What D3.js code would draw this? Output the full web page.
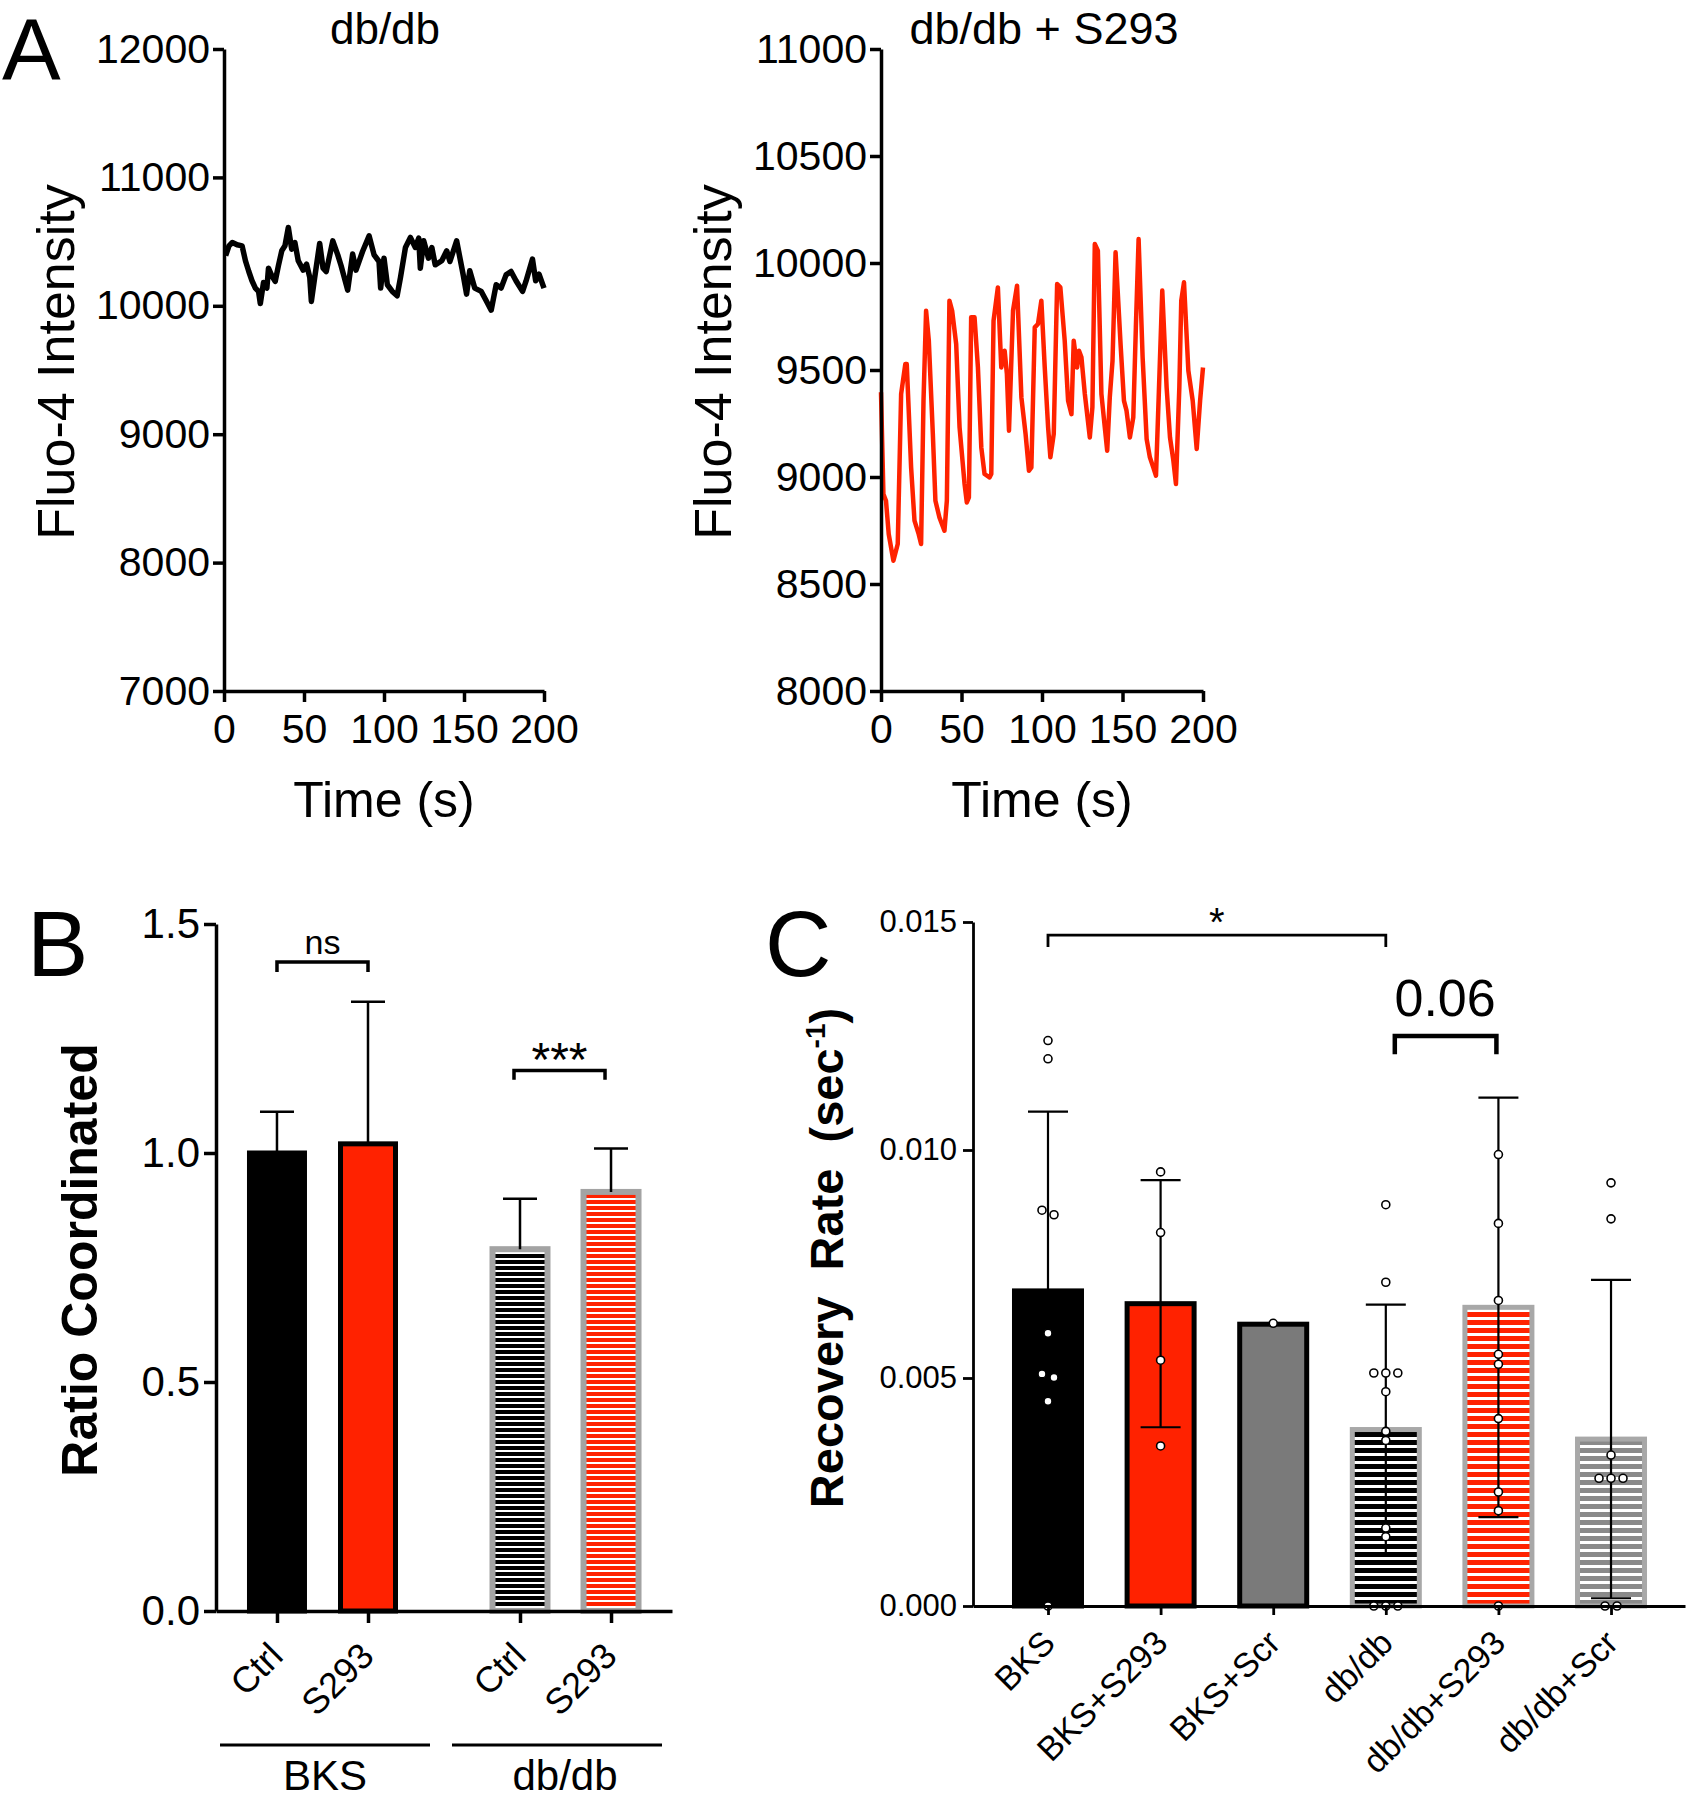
<!DOCTYPE html>
<html>
<head>
<meta charset="utf-8">
<script src="https://cdn.jsdelivr.net/npm/d3@7"></script>
<style>
  body { margin: 0; background: #fff; }
  text { font-family: "Liberation Sans", Arial, sans-serif; fill: #000; }
</style>
</head>
<body>
<svg id="fig" width="1689" height="1800"></svg>
<script>
// --- data

// A: db/db trace (time in s, Fluo-4 intensity)
const dbTime = [1.0, 3.1, 5.2, 8.2, 11.3, 13.4, 15.5, 17.5, 19.6, 21.6, 22.7, 24.7, 26.8, 27.8, 29.9, 32.0, 34.0, 36.1, 38.1, 40.2,
  42.3, 44.3, 46.4, 49.5, 51.6, 53.6, 54.6, 56.7, 59.8, 61.9, 63.9, 68.0, 71.1, 73.2, 77.3, 80.4, 82.5, 86.6, 90.7, 93.8,
  96.9, 97.9, 100.0, 102.1, 105.2, 108.2, 110.3, 113.4, 116.5, 119.6, 121.7, 122.7, 124.8, 127.8, 129.9, 132.0, 136.1, 139.2, 141.2, 145.4,
  149.5, 151.6, 153.6, 156.7, 160.8, 163.9, 167.0, 170.1, 173.2, 176.3, 179.4, 182.5, 186.6, 188.7, 192.8, 194.8, 196.9, 200.0]
const dbValue = [10390, 10467, 10493, 10475, 10467, 10351, 10267, 10195, 10138, 10112, 10018, 10182, 10138, 10293, 10234, 10190, 10312, 10428, 10467, 10610,
  10441, 10493, 10351, 10278, 10325, 10221, 10034, 10221, 10486, 10293, 10267, 10506, 10397, 10312, 10122, 10403, 10278, 10423, 10545, 10397,
  10345, 10138, 10371, 10164, 10112, 10078, 10221, 10454, 10532, 10454, 10527, 10293, 10506, 10371, 10454, 10319, 10351, 10428, 10345, 10506,
  10241, 10091, 10273, 10138, 10112, 10039, 9966, 10164, 10138, 10241, 10267, 10195, 10112, 10190, 10364, 10195, 10247, 10138]

// A: db/db + S293 trace
const s293Time = [0, 1.5, 3.1, 4.8, 7.7, 10.4, 12.5, 15.1, 16.0, 18.7, 20.8, 23.4, 24.9, 26.4, 28.0, 29.7, 32.2, 33.8, 36.3, 39.4,
  40.9, 42.5, 44.2, 46.7, 48.8, 51.9, 53.3, 54.6, 56.0, 58.1, 60.2, 62.3, 64.3, 67.4, 68.5, 69.9, 72.6, 74.7, 76.8, 78.2,
  79.5, 82.0, 84.5, 87.2, 89.8, 91.9, 93.4, 95.5, 97.5, 99.6, 101.7, 103.8, 105.2, 107.3, 109.4, 111.4, 114.1, 116.2, 118.3, 119.7,
  121.8, 123.0, 124.5, 126.6, 129.7, 131.3, 132.8, 134.7, 136.9, 139.0, 140.5, 142.1, 143.8, 145.7, 148.8, 150.9, 152.5, 154.6, 156.7, 158.3,
  160.0, 162.5, 165.0, 167.0, 169.1, 170.8, 172.4, 174.7, 177.4, 179.5, 181.6, 183.2, 185.3, 186.5, 188.2, 190.9, 193.6, 196.1, 198.2, 200.0]
const s293Value = [9396, 8920, 8889, 8733, 8609, 8687, 9388, 9528, 9528, 9045, 8796, 8733, 8687, 9357, 9777, 9637, 9201, 8889, 8811, 8749,
  8889, 9824, 9777, 9621, 9232, 8967, 8881, 8905, 9746, 9746, 9512, 9138, 9014, 8998, 9014, 9730, 9886, 9512, 9590, 9481,
  9216, 9777, 9894, 9372, 9201, 9029, 9045, 9699, 9715, 9824, 9512, 9232, 9092, 9201, 9902, 9886, 9637, 9357, 9294, 9637,
  9512, 9590, 9559, 9388, 9185, 9326, 10089, 10058, 9388, 9232, 9123, 9372, 9543, 10050, 9621, 9357, 9310, 9185, 9279, 9699,
  10112, 9559, 9177, 9092, 9045, 9006, 9357, 9871, 9419, 9185, 9076, 8967, 9419, 9824, 9910, 9497, 9357, 9131, 9357, 9512]

const traceTicks = [0, 50, 100, 150, 200]
const dbTicks = [7000, 8000, 9000, 10000, 11000, 12000]
const s293Ticks = [8000, 8500, 9000, 9500, 10000, 10500, 11000]

// B: ratio coordinated
const ratioGroups = ['BKS', 'BKS', 'db/db', 'db/db']
const ratioLabels = ['Ctrl', 'S293', 'Ctrl', 'S293']
const ratioMean = [1.0, 1.02, 0.79, 0.915]
const ratioErr = [0.09, 0.31, 0.11, 0.095]
const ratioTicks = [0, 0.5, 1.0, 1.5]

// C: recovery rate
const rateNames = ['BKS', 'BKS+S293', 'BKS+Scr', 'db/db', 'db/db+S293', 'db/db+Scr']
const rateMean = [0.00691, 0.00663, 0.00618, 0.00387, 0.00655, 0.00366]
const rateSd = [0.00393, 0.00271, 0, 0.00274, 0.0046, 0.00349]
const ratePoints = [
  [0.0124, 0.0120, 0.00868, 0.00858, 0.00598, 0.00509, 0.00501, 0.00449, 0],
  [0.00952, 0.00819, 0.00539, 0.00351],
  [0.0062],
  [0.0088, 0.0071, 0.00511, 0.00511, 0.00511, 0.0047, 0.00383, 0.00363, 0.00171, 0.00152, 0, 0, 0],
  [0.0099, 0.00839, 0.0067, 0.00552, 0.0053, 0.00411, 0.0025, 0.00209, 0],
  [0.00928, 0.00849, 0.00331, 0.0028, 0.0028, 0.0028, 0, 0]
]
const rateTicks = [0, 0.005, 0.010, 0.015]

// --- styles
const RED = '#ff2200'
const svg = d3.select('#fig')
const defs = svg.append('defs')

function stripes(id, color, period, band) {
  const p = defs.append('pattern').attr('id', id)
    .attr('patternUnits', 'userSpaceOnUse').attr('width', 10).attr('height', period)
  p.append('rect').attr('width', 10).attr('height', period).attr('fill', '#fff')
  p.append('rect').attr('width', 10).attr('height', band).attr('fill', color)
}
stripes('stripeBlack6', '#000', 6, 4)
stripes('stripeRed6', RED, 6, 4)
stripes('stripeBlack8', '#000', 8, 5)
stripes('stripeRed8', RED, 8, 5)
stripes('stripeGray8', '#8a8a8a', 8, 5)

const ratioStyle = [
  {fill: '#000', stroke: '#000'},
  {fill: RED, stroke: '#000'},
  {fill: 'url(#stripeBlack6)', stroke: '#a3a3a3'},
  {fill: 'url(#stripeRed6)', stroke: '#a3a3a3'}
]
const rateStyle = [
  {fill: '#000', stroke: '#000'},
  {fill: RED, stroke: '#000'},
  {fill: '#7a7a7a', stroke: '#000'},
  {fill: 'url(#stripeBlack8)', stroke: '#a8a8a8'},
  {fill: 'url(#stripeRed8)', stroke: '#a8a8a8'},
  {fill: 'url(#stripeGray8)', stroke: '#a8a8a8'}
]

// axis styling shared by all panels
function styleAxis(g, size, width) {
  g.attr('font-family', null).attr('font-size', null)
  g.select('.domain').attr('stroke-width', width).attr('stroke', '#000')
  g.selectAll('.tick line').attr('stroke-width', width).attr('stroke', '#000')
  g.selectAll('.tick text').style('font-size', size + 'px').attr('fill', '#000')
}

function bracket(g, x1, x2, y, tip, width) {
  g.append('path')
    .attr('d', `M${x1},${tip}V${y}H${x2}V${tip}`)
    .attr('fill', 'none').attr('stroke', '#000').attr('stroke-width', width)
}

// --- Panel A

function renderTrace(o) {
  const g = svg.append('g')
  const x = d3.scaleLinear().domain([0, 200]).range([o.left, o.right])
  const y = d3.scaleLinear().domain(o.yDomain).range([691, 49])

  g.append('path')
    .datum(d3.zip(o.time, o.value))
    .attr('d', d3.line().x(d => x(d[0])).y(d => y(d[1])))
    .attr('fill', 'none').attr('stroke', o.color).attr('stroke-width', o.width)
    .attr('stroke-linejoin', 'round')

  g.append('g').attr('transform', 'translate(0,691)')
    .call(d3.axisBottom(x).tickValues(traceTicks).tickSize(11).tickPadding(12).tickSizeOuter(0))
    .call(a => styleAxis(a, 41, 3.5))
  g.append('g').attr('transform', `translate(${o.left},0)`)
    .call(d3.axisLeft(y).tickValues(o.yTicks).tickFormat(d3.format('d')).tickSize(11).tickPadding(3).tickSizeOuter(0))
    .call(a => styleAxis(a, 41, 3.5))

  const cx = (o.left + o.right) / 2
  g.append('text').attr('x', o.titleX).attr('y', 44).attr('text-anchor', 'middle')
    .style('font-size', o.titleSize + 'px').text(o.title)
  g.append('text').attr('x', cx).attr('y', 817).attr('text-anchor', 'middle')
    .style('font-size', '50px').text('Time (s)')
  g.append('text').attr('transform', `translate(${o.labelX},362) rotate(-90)`)
    .attr('text-anchor', 'middle').style('font-size', '52px').text('Fluo-4 Intensity')
}

renderTrace({left: 224, right: 544, yDomain: [7000, 12000], yTicks: dbTicks, time: dbTime, value: dbValue,
  color: '#000', width: 5.5, title: 'db/db', titleX: 385, titleSize: 44, labelX: 74})
renderTrace({left: 881, right: 1203, yDomain: [8000, 11000], yTicks: s293Ticks, time: s293Time, value: s293Value,
  color: RED, width: 4.5, title: 'db/db + S293', titleX: 1044, titleSize: 45, labelX: 731})

// --- Panel B

function renderRatio() {
  const g = svg.append('g')
  const groupNames = Array.from(new Set(ratioGroups))
  // bar slot: index plus extra space between groups
  const slot = ratioGroups.map((grp, i) => i + groupNames.indexOf(grp) * 0.67)
  const x = d3.scaleLinear().domain([-0.67, 4.34]).range([216, 672])
  const y = d3.scaleLinear().domain([0, 1.5]).range([1611, 924])
  const barW = 55

  g.selectAll('rect.bar').data(ratioMean).enter().append('rect')
    .attr('x', (d, i) => x(slot[i]) - barW / 2)
    .attr('width', barW)
    .attr('y', d => y(d))
    .attr('height', d => y(0) - y(d))
    .attr('fill', (d, i) => ratioStyle[i].fill)
    .attr('stroke', (d, i) => ratioStyle[i].stroke)
    .attr('stroke-width', (d, i) => i < 2 ? 5 : 6)

  // error bars (upper only)
  ratioMean.forEach((m, i) => {
    const cx = x(slot[i])
    g.append('path')
      .attr('d', `M${cx},${y(m)}V${y(m + ratioErr[i])}M${cx - 17},${y(m + ratioErr[i])}H${cx + 17}`)
      .attr('stroke', '#000').attr('stroke-width', 2.5).attr('fill', 'none')
  })

  g.append('g').attr('transform', 'translate(0,1611)')
    .call(d3.axisBottom(x).tickValues(slot).tickFormat('').tickSize(12).tickSizeOuter(0))
    .call(a => styleAxis(a, 36, 3.5))
  g.append('g').attr('transform', 'translate(216,0)')
    .call(d3.axisLeft(y).tickValues(ratioTicks).tickFormat(d3.format('.1f')).tickSize(12).tickPadding(4).tickSizeOuter(0))
    .call(a => styleAxis(a, 42, 3.5))

  // rotated condition labels
  g.selectAll('text.cond').data(ratioLabels).enter().append('text')
    .attr('transform', (d, i) => `translate(${x(slot[i]) + 8},1658) rotate(-45)`)
    .attr('text-anchor', 'end').style('font-size', '36px').text(d => d)

  // group underline + names: each group gets half of the axis, small gap between
  const half = (x.range()[1] - x.range()[0]) / groupNames.length
  groupNames.forEach((grp, gi) => {
    const x1 = x.range()[0] + 4 + gi * (half + 4), x2 = x1 + half - 18
    g.append('line').attr('x1', x1).attr('x2', x2).attr('y1', 1745).attr('y2', 1745)
      .attr('stroke', '#000').attr('stroke-width', 3)
    g.append('text').attr('x', (x1 + x2) / 2 + gi * 8).attr('y', 1790).attr('text-anchor', 'middle')
      .style('font-size', '42px').text(grp)
  })

  // significance
  bracket(g, x(slot[0]), x(slot[1]), y(1.417), y(1.395), 3.5)
  g.append('text').attr('x', (x(slot[0]) + x(slot[1])) / 2).attr('y', y(1.417) - 8)
    .attr('text-anchor', 'middle').style('font-size', '34px').text('ns')
  bracket(g, x(slot[2]) - 6, x(slot[3]) - 6, y(1.18), y(1.16), 3.5)
  g.append('text').attr('x', (x(slot[2]) + x(slot[3])) / 2 - 6).attr('y', y(1.18) + 5)
    .attr('text-anchor', 'middle').style('font-size', '48px').text('***')

  g.append('text').attr('transform', 'translate(97,1260) rotate(-90)')
    .attr('text-anchor', 'middle').style('font-size', '50px').style('font-weight', 'bold')
    .text('Ratio Coordinated')
}
renderRatio()

// --- Panel C

// put near-equal values side by side
function spread(vals) {
  const out = []
  let i = 0
  while (i < vals.length) {
    let j = i
    while (j + 1 < vals.length && Math.abs(vals[j + 1] - vals[i]) < 0.00012) j++
    const n = j - i + 1
    for (let k = 0; k < n; k++) out.push({v: vals[i + k], dx: (k - (n - 1) / 2) * 12})
    i = j + 1
  }
  return out
}

function renderRate() {
  const g = svg.append('g')
  const idx = rateNames.map((d, i) => i)
  const x = d3.scaleLinear().domain([-0.666, 5.657]).range([973, 1685])
  const y = d3.scaleLinear().domain([0, 0.015]).range([1606, 922])
  const barW = 67

  g.selectAll('rect.bar').data(rateMean).enter().append('rect')
    .attr('x', (d, i) => x(i) - barW / 2)
    .attr('width', barW)
    .attr('y', d => y(d))
    .attr('height', d => y(0) - y(d))
    .attr('fill', (d, i) => rateStyle[i].fill)
    .attr('stroke', (d, i) => rateStyle[i].stroke)
    .attr('stroke-width', 5)

  // mean +/- SD
  rateMean.forEach((m, i) => {
    if (!rateSd[i]) return
    const cx = x(i), hi = y(m + rateSd[i]), lo = y(Math.max(0, m - rateSd[i]))
    g.append('path')
      .attr('d', `M${cx},${lo}V${hi}M${cx - 20},${hi}H${cx + 20}M${cx - 20},${lo}H${cx + 20}`)
      .attr('stroke', '#000').attr('stroke-width', 2.2).attr('fill', 'none')
  })

  // individual cells
  ratePoints.forEach((pts, i) => {
    g.selectAll(null).data(spread(pts)).enter().append('circle')
      .attr('cx', d => x(i) + d.dx).attr('cy', d => y(d.v)).attr('r', 4)
      .attr('fill', '#fff').attr('stroke', '#000').attr('stroke-width', 1.6)
  })

  g.append('g').attr('transform', 'translate(0,1606)')
    .call(d3.axisBottom(x).tickValues(idx).tickFormat('').tickSize(9).tickSizeOuter(0))
    .call(a => styleAxis(a, 30, 2.8))
  g.append('g').attr('transform', 'translate(973,0)')
    .call(d3.axisLeft(y).tickValues(rateTicks).tickFormat(d3.format('.3f')).tickSize(10).tickPadding(6).tickSizeOuter(0))
    .call(a => styleAxis(a, 31, 2.8))

  g.selectAll('text.cond').data(rateNames).enter().append('text')
    .attr('transform', (d, i) => `translate(${x(i) + 9},1645) rotate(-45)`)
    .attr('text-anchor', 'end').style('font-size', '34px').text(d => d)

  // significance
  bracket(g, x(0), x(3), y(0.01471), y(0.01445), 2.8)
  g.append('text').attr('x', (x(0) + x(3)) / 2).attr('y', y(0.01471) + 1)
    .attr('text-anchor', 'middle').style('font-size', '40px').text('*')
  bracket(g, x(3) + 9, x(4) - 2, y(0.0125), y(0.0121), 4.5)
  g.append('text').attr('x', (x(3) + x(4)) / 2 + 3).attr('y', y(0.0125) - 20)
    .attr('text-anchor', 'middle').style('font-size', '52px').text('0.06')

  const lab = g.append('text').attr('transform', 'translate(843,1258) rotate(-90)')
    .attr('text-anchor', 'middle').style('font-size', '47px').style('font-weight', 'bold')
    .style('white-space', 'pre')
  lab.append('tspan').text('Recovery  Rate  (sec')
  lab.append('tspan').attr('dy', -18).style('font-size', '28px').text('-1')
  lab.append('tspan').attr('dy', 18).text(')')
}
renderRate()

// panel letters
svg.selectAll('text.letter').data([['A', 2, 80], ['B', 27, 976], ['C', 765, 976]]).enter().append('text')
  .attr('x', d => d[1]).attr('y', d => d[2]).style('font-size', d => d[0] === 'A' ? '88px' : '92px').text(d => d[0])
</script>
</body>
</html>
